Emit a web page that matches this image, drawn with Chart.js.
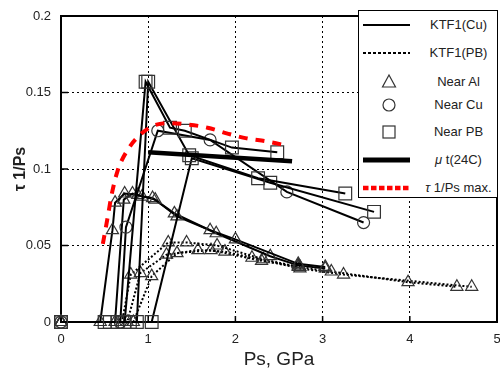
<!DOCTYPE html>
<html>
<head>
<meta charset="utf-8">
<script src="https://cdn.jsdelivr.net/npm/chart.js@4.4.0/dist/chart.umd.min.js"></script>
<style>
  html, body { margin: 0; padding: 0; background: #fff; }
  #wrap { position: relative; width: 500px; height: 371px; }
  #legend {
    position: absolute; left: 358px; top: 10px; width: 140px; height: 188px;
    box-sizing: border-box; border: 1.5px solid #000; background: #fff;
    font-family: "Liberation Sans", Arial, sans-serif; font-size: 13px; color: #222;
  }
  #legend .row { position: absolute; left: 0; width: 137px; height: 20px; }
  #legend svg { position: absolute; left: 0; top: 0; }
  #legend .txt { position: absolute; left: 62px; right: 0; top: 2px; text-align: center; line-height: 16px; }
</style>
</head>
<body>
<div id="wrap">
  <canvas id="chart" width="500" height="371"></canvas>
  <div id="legend">
    <div class="row" style="top:4px">
      <svg width="58" height="20"><line x1="4" y1="10" x2="51" y2="10" stroke="#000" stroke-width="2"/></svg>
      <div class="txt">KTF1(Cu)</div>
    </div>
    <div class="row" style="top:32px">
      <svg width="58" height="20"><line x1="4" y1="10" x2="51" y2="10" stroke="#000" stroke-width="2" stroke-dasharray="3 2"/></svg>
      <div class="txt">KTF1(PB)</div>
    </div>
    <div class="row" style="top:61px">
      <svg width="58" height="20"><polygon points="30,3 36.5,15 23.5,15" fill="none" stroke="#333" stroke-width="1.2"/></svg>
      <div class="txt">Near Al</div>
    </div>
    <div class="row" style="top:84px">
      <svg width="58" height="20"><circle cx="30" cy="10" r="6" fill="none" stroke="#333" stroke-width="1.2"/></svg>
      <div class="txt">Near Cu</div>
    </div>
    <div class="row" style="top:111px">
      <svg width="58" height="20"><rect x="24" y="4" width="12" height="12" fill="none" stroke="#333" stroke-width="1.2"/></svg>
      <div class="txt">Near PB</div>
    </div>
    <div class="row" style="top:139px">
      <svg width="58" height="20"><line x1="4" y1="10" x2="51" y2="10" stroke="#000" stroke-width="5"/></svg>
      <div class="txt"><i>μ</i> t(24C)</div>
    </div>
    <div class="row" style="top:167px">
      <svg width="58" height="20"><line x1="4" y1="10" x2="51" y2="10" stroke="#f00" stroke-width="4.5" stroke-dasharray="5.5 2.5"/></svg>
      <div class="txt"><i>τ</i> 1/Ps max.</div>
    </div>
  </div>
</div>
<script>
// axis tick labels
var xTicks = ['0', '1', '2', '3', '4', '5'];
var yTicks = ['0', '0.05', '0.1', '0.15', '0.2'];

// Near PB, KTF1(Cu)
var pbA_x = [0, 0.56, 0.73, 0.97, 1.25, 1.42, 1.96, 2.48];
var pbA_y = [0, 0, 0, 0.157, 0.127, 0.125, 0.114, 0.111];
var pbB_x = [0, 0.65, 0.87, 1.00, 1.47, 2.26, 3.26];
var pbB_y = [0, 0, 0, 0.157, 0.109, 0.094, 0.084];
var pbC_x = [0, 0.50, 0.79, 1.04, 1.50, 2.40, 3.59];
var pbC_y = [0, 0, 0, 0, 0.107, 0.091, 0.072];

// Near Cu, KTF1(Cu)
var cu_x = [0, 0.68, 0.745, 1.11, 1.71, 2.59, 3.47];
var cu_y = [0, 0, 0.062, 0.125, 0.119, 0.085, 0.065];

// Near Al, KTF1(Cu)
var alA_x = [0, 0.45, 0.59, 0.62, 0.73, 0.88, 1.08, 1.33, 1.71, 2.00, 2.72, 3.03];
var alA_y = [0, 0, 0.060, 0.078, 0.084, 0.083, 0.080, 0.069, 0.060, 0.054, 0.038, 0.036];
var alB_x = [0, 0.62, 0.72, 0.82, 0.93, 1.05, 1.30, 1.78, 2.40, 2.72, 3.03];
var alB_y = [0, 0, 0.080, 0.084, 0.082, 0.081, 0.071, 0.058, 0.043, 0.037, 0.035];

// Near Al, KTF1(PB)
var alC_x = [0, 0.70, 0.80, 1.23, 1.44, 1.79, 2.32, 2.72, 3.10, 3.98, 4.54];
var alC_y = [0, 0, 0.031, 0.052, 0.052, 0.050, 0.041, 0.036, 0.033, 0.026, 0.023];
var alD_x = [0, 0.76, 0.91, 1.21, 1.57, 1.88, 2.19, 2.74, 3.24, 4.71];
var alD_y = [0, 0, 0.032, 0.044, 0.047, 0.046, 0.042, 0.035, 0.031, 0.023];
var alE_x = [0, 0.83, 1.04, 1.33, 1.72, 2.30, 2.74];
var alE_y = [0, 0, 0.030, 0.045, 0.047, 0.040, 0.036];

// mu t(24C)
var mu_x = [1.0, 2.65];
var mu_y = [0.111, 0.105];

// tau 1/Ps max.
var tau_x = [0.48, 0.54, 0.58, 0.65, 0.77, 0.90, 1.05, 1.23, 1.47, 1.68, 1.92, 2.13, 2.36, 2.61];
var tau_y = [0.051, 0.070, 0.083, 0.099, 0.113, 0.122, 0.128, 0.130, 0.129, 0.127, 0.123, 0.120, 0.118, 0.115];

function pts(xs, ys) {
  return xs.map(function (x, i) { return {x: x, y: ys[i]}; });
}

var solid = {borderColor: '#000', borderWidth: 2, borderDash: []};
var dotted = {borderColor: '#000', borderWidth: 2, borderDash: [2, 2]};
var tri = {pointStyle: 'triangle', pointRadius: 7};
var circ = {pointStyle: 'circle', pointRadius: 6};
var sq = {pointStyle: 'rect', pointRadius: 9};

function ds(label, xs, ys, line, marker) {
  return Object.assign({
    label: label,
    data: pts(xs, ys),
    showLine: true,
    fill: false,
    tension: 0,
    clip: false,
    pointBorderColor: '#333',
    pointBackgroundColor: 'rgba(0,0,0,0)',
    pointBorderWidth: 1.2
  }, line, marker);
}

var datasets = [
  Object.assign(ds('τ 1/Ps max.', tau_x, tau_y, {borderColor: '#f00', borderWidth: 4, borderDash: [9, 8]}, {pointRadius: 0}),
    {cubicInterpolationMode: 'monotone'}),
  ds('μ t(24C)', mu_x, mu_y, {borderColor: '#000', borderWidth: 4.5}, {pointRadius: 0}),
  ds('Near PB', pbA_x, pbA_y, solid, sq),
  ds('Near PB', pbB_x, pbB_y, solid, sq),
  ds('Near PB', pbC_x, pbC_y, solid, sq),
  ds('Near Cu', cu_x, cu_y, solid, circ),
  ds('Near Al', alA_x, alA_y, solid, tri),
  ds('Near Al', alB_x, alB_y, solid, tri),
  ds('Near Al', alC_x, alC_y, dotted, tri),
  ds('Near Al', alD_x, alD_y, dotted, tri),
  ds('Near Al', alE_x, alE_y, dotted, tri)
];

// frame on top/right plus inward tick marks
var framePlugin = {
  id: 'frame',
  beforeDatasetsDraw: function (chart) {
    var a = chart.chartArea, ctx = chart.ctx;
    var xs = chart.scales.x, ys = chart.scales.y;
    ctx.save();
    ctx.strokeStyle = '#000';
    ctx.lineWidth = 2;
    ctx.beginPath();
    ctx.moveTo(a.left, a.top);
    ctx.lineTo(a.right, a.top);
    ctx.lineTo(a.right, a.bottom);
    ctx.stroke();
    ctx.lineWidth = 1.5;
    ctx.beginPath();
    ys.ticks.forEach(function (t) {
      var p = ys.getPixelForValue(t.value);
      ctx.moveTo(a.left, p);
      ctx.lineTo(a.left + 7, p);
    });
    xs.ticks.forEach(function (t) {
      var p = xs.getPixelForValue(t.value);
      ctx.moveTo(p, a.bottom);
      ctx.lineTo(p, a.bottom - 6);
    });
    ctx.stroke();
    ctx.restore();
  }
};

// let the tick labels hang over the edges instead of shrinking the plot
function noPad(s) {
  s.paddingLeft = 0; s.paddingRight = 0; s.paddingTop = 0; s.paddingBottom = 0;
}

Chart.defaults.font.family = '"Liberation Sans", Arial, sans-serif';
Chart.defaults.color = '#222';

new Chart(document.getElementById('chart'), {
  type: 'scatter',
  data: {datasets: datasets},
  options: {
    responsive: false,
    animation: false,
    layout: {autoPadding: false, padding: {left: 0, right: 3, top: 16, bottom: 0}},
    plugins: {legend: {display: false}, tooltip: {enabled: false}},
    scales: {
      x: {
        type: 'linear', min: 0, max: 5,
        afterFit: function (s) { s.height = 49; noPad(s); },
        ticks: {
          stepSize: 1, padding: 10, font: {size: 13},
          callback: function (v, i) { return xTicks[i]; }
        },
        grid: {color: '#000', lineWidth: 1, drawTicks: false},
        border: {display: true, color: '#000', width: 2, dash: [2, 3]},
        title: {display: true, text: 'Ps, GPa', font: {size: 19}, padding: {top: 0, bottom: 0}}
      },
      y: {
        type: 'linear', min: 0, max: 0.2,
        afterFit: function (s) { s.width = 61; noPad(s); },
        ticks: {
          stepSize: 0.05, padding: 10, font: {size: 13},
          callback: function (v, i) { return yTicks[i]; }
        },
        grid: {color: '#000', lineWidth: 1, drawTicks: false},
        border: {display: true, color: '#000', width: 2, dash: [2, 3]},
        title: {display: true, text: 'τ 1/Ps', font: {size: 16, weight: 'bold'}, padding: {top: 11, bottom: 0}}
      }
    }
  },
  plugins: [framePlugin]
});
</script>
</body>
</html>
